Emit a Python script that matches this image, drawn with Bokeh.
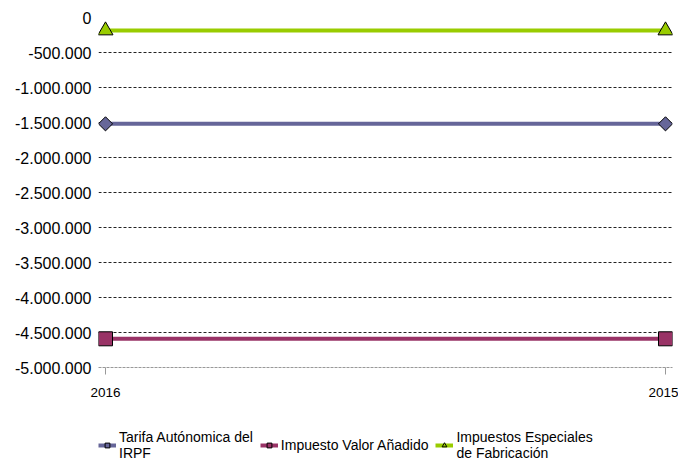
import math
from bokeh.plotting import figure
from bokeh.layouts import column
from bokeh.models import Range1d, Legend, LegendItem, FixedTicker
from bokeh.embed import file_html
from bokeh.resources import INLINE

years = ["2016", "2015"]
tarifa_irpf = [-1519000, -1519000]
iva = [-4590000, -4590000]
especiales = [-186000, -186000]
y_ticks = [0, -500000, -1000000, -1500000, -2000000, -2500000, -3000000,
           -3500000, -4000000, -4500000, -5000000]
y_tick_labels = ["0", "-500.000", "-1.000.000", "-1.500.000", "-2.000.000",
                 "-2.500.000", "-3.000.000", "-3.500.000", "-4.000.000",
                 "-4.500.000", "-5.000.000"]

xs = list(range(len(years)))
FONT = "Liberation Sans"

p = figure(width=678, height=403, output_backend="svg", toolbar_location=None,
           x_range=Range1d(-0.0125, 1.0125), y_range=Range1d(-5000000, 0),
           min_border_left=98, min_border_right=6, min_border_top=17,
           min_border_bottom=36)
p.outline_line_color = None
p.background_fill_color = "white"

p.xgrid.visible = False
p.ygrid.ticker = FixedTicker(ticks=y_ticks[:-1])
p.ygrid.grid_line_color = "#222222"
p.ygrid.grid_line_dash = "3 2"
p.ygrid.grid_line_width = 1

p.yaxis.ticker = FixedTicker(ticks=y_ticks)
p.yaxis.major_label_overrides = {t: l for t, l in zip(y_ticks, y_tick_labels)}
p.yaxis.axis_line_color = None
p.yaxis.major_tick_line_color = None
p.yaxis.minor_tick_line_color = None
p.yaxis.major_label_text_font = FONT
p.yaxis.major_label_text_font_size = "16px"
p.yaxis.major_label_text_color = "#000000"
p.yaxis.major_label_standoff = 1

p.xaxis.ticker = FixedTicker(ticks=xs)
p.xaxis.major_label_overrides = {i: y for i, y in zip(xs, years)}
p.xaxis.axis_line_color = "#999999"
p.xaxis.axis_line_dash = "3 1"
p.xaxis.major_tick_line_color = "#999999"
p.xaxis.major_tick_in = 0
p.xaxis.major_tick_out = 7
p.xaxis.minor_tick_line_color = None
p.xaxis.major_label_text_font = FONT
p.xaxis.major_label_text_font_size = "13.5px"
p.xaxis.major_label_text_color = "#000000"
p.xaxis.major_label_standoff = 13

series = [
    ("Tarifa Autónomica del\nIRPF", tarifa_irpf, "#666699", "square", 10, math.pi / 4),
    ("Impuesto Valor Añadido", iva, "#993366", "square", 14, 0),
    ("Impuestos Especiales\nde Fabricación", especiales, "#99cc00", "triangle", 15, 0),
]

# legend figure (below the chart)
lp = figure(width=678, height=62, output_backend="svg", toolbar_location=None,
            x_range=Range1d(0, 1), y_range=Range1d(0, 1),
            min_border_left=0, min_border_right=0, min_border_top=0,
            min_border_bottom=0)
lp.axis.visible = False
lp.grid.visible = False
lp.outline_line_color = None

items = []
for label, vals, color, marker, size, angle in series:
    p.line(xs, vals, line_color=color, line_width=4)
    p.scatter(xs, vals, marker=marker, size=size, angle=angle,
              fill_color=color, line_color="#000000", line_width=1)
    ll = lp.line(xs, vals, line_color=color, line_width=4)
    ls = lp.scatter(xs, vals, marker=marker, size=size, angle=angle,
                    fill_color=color, line_color="#000000", line_width=1)
    items.append(LegendItem(label=label, renderers=[ll, ls]))

legend = Legend(items=items, orientation="horizontal", location=(0, 4),
                label_text_font=FONT, label_text_font_size="14px",
                label_text_color="#000000", label_text_line_height=1.3,
                glyph_width=18, glyph_height=12, spacing=7,
                label_standoff=3, border_line_color=None,
                background_fill_alpha=0, margin=0, padding=0)
lp.add_layout(legend, "center")

open("out.html", "w").write(file_html(column(p, lp), INLINE))
